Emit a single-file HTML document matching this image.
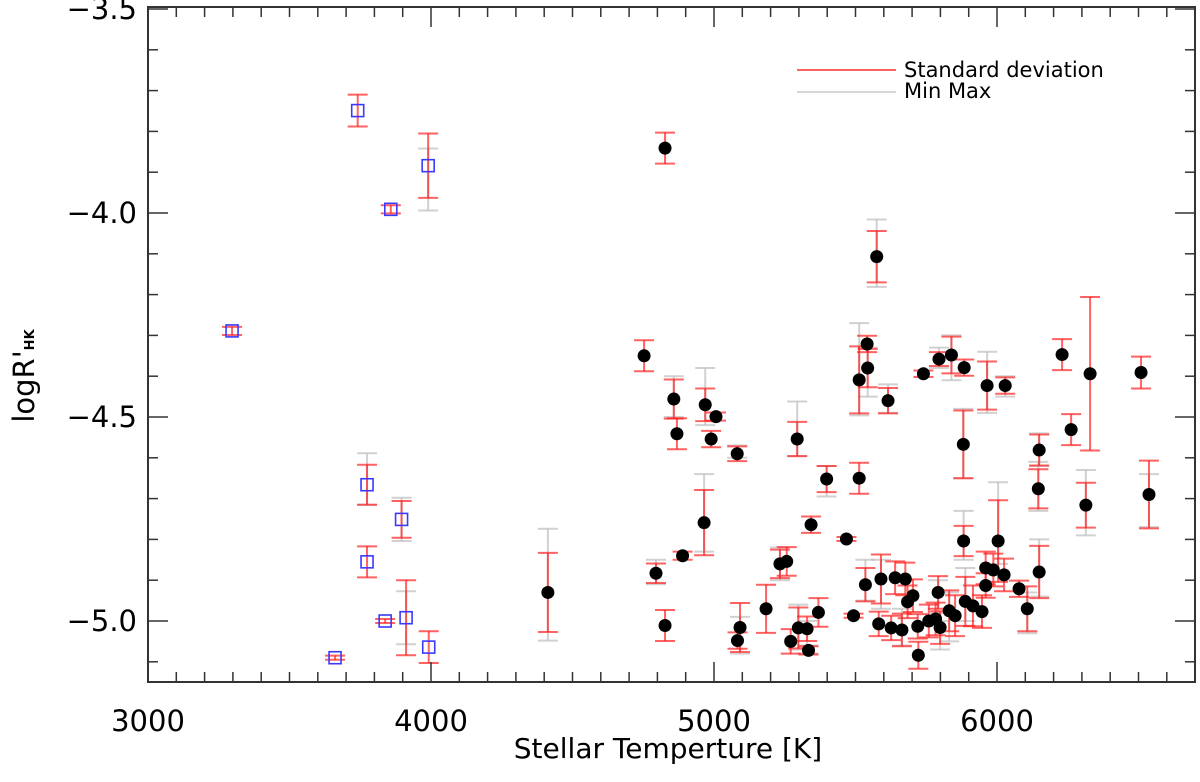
<!DOCTYPE html>
<html><head><meta charset="utf-8"><style>
html,body{margin:0;padding:0;background:#fff;}
svg{display:block;font-family:"DejaVu Sans","Liberation Sans",sans-serif;}
</style></head><body>
<svg id="chart" width="1200" height="782" viewBox="0 0 1200 782" xmlns="http://www.w3.org/2000/svg">
<g id="grayLayer"></g>
<g id="redLayer"></g>
<g id="markLayer"></g>
<g id="axes"></g>
<g>
<line x1="797" y1="70" x2="896" y2="70" stroke="#ff3030" stroke-width="1.5"/>
<text x="904" y="77" font-size="21" fill="#000">Standard deviation</text>
<line x1="797" y1="92" x2="896" y2="92" stroke="#c8c8c8" stroke-width="1.5"/>
<text x="904" y="98" font-size="21" fill="#000">Min Max</text>
</g>
<text x="668" y="758" font-size="28" text-anchor="middle" fill="#000">Stellar Temperture [K]</text>
<text transform="translate(34,376) rotate(-90)" font-size="29" text-anchor="middle" fill="#000">logR'<tspan font-size="13" font-weight="bold">HK</tspan></text>
</svg>
<script>
// M-dwarf (open squares)
const sqTemp=[3741,3990,3858,3297,3774,3896,3774,3838,3912,3992,3661];
const sqVal=[-3.749,-3.884,-3.991,-4.289,-4.666,-4.751,-4.855,-5.0,-4.992,-5.064,-5.09];
const sqSd=[0.039,0.079,0.01,0.01,0.049,0.045,0.038,0.005,0.092,0.039,0.005];
const sqMin=[null,-3.994,null,null,-4.715,-4.804,null,null,-5.057,null,null];
const sqMax=[null,-3.842,null,null,-4.589,-4.698,null,null,-4.927,null,null];
// FGK stars (filled dots)
const dTemp=[4413,4827,5575,4753,4858,4869,4969,5007,4990,5082,5294,5398,5513,5513,5541,5543,5615,5740,5795,5839,5884,5965,6029,5881,6230,6329,6509,6262,6149,6146,6314,6537,5343,5468,5882,6004,6149,5535,5590,5640,5676,5703,5684,5792,5831,5852,5888,5915,5947,5960,5960,5987,6025,6078,6107,5582,5626,5664,5720,5722,5759,5783,5799,5493,5369,5329,5334,4965,4889,5092,5083,5184,5233,5257,5271,5298,4795,4827];
const dVal=[-4.93,-3.841,-4.107,-4.35,-4.456,-4.541,-4.47,-4.499,-4.554,-4.59,-4.554,-4.652,-4.65,-4.409,-4.321,-4.38,-4.46,-4.394,-4.358,-4.348,-4.379,-4.423,-4.423,-4.567,-4.347,-4.394,-4.391,-4.531,-4.581,-4.676,-4.716,-4.69,-4.764,-4.799,-4.804,-4.804,-4.88,-4.911,-4.897,-4.894,-4.897,-4.938,-4.953,-4.93,-4.975,-4.987,-4.952,-4.963,-4.977,-4.913,-4.87,-4.875,-4.887,-4.921,-4.97,-5.007,-5.017,-5.022,-5.013,-5.084,-5.0,-4.995,-5.016,-4.987,-4.979,-5.019,-5.072,-4.759,-4.84,-5.016,-5.048,-4.97,-4.86,-4.854,-5.05,-5.017,-4.883,-5.011];
const dSd=[0.097,0.038,0.063,0.038,0.048,0.038,0.04,0.01,0.02,0.018,0.042,0.032,0.038,0.082,0.02,0.047,0.031,0.008,0.017,0.045,0.02,0.059,0.02,0.083,0.038,0.188,0.039,0.038,0.038,0.048,0.055,0.083,0.02,0.005,0.037,0.1,0.064,0.041,0.06,0.04,0.04,0.04,0.04,0.04,0.05,0.05,0.06,0.05,0.04,0.03,0.04,0.04,0.04,0.02,0.055,0.03,0.03,0.04,0.03,0.033,0.04,0.04,0.04,0.005,0.035,0.03,0.01,0.08,0.01,0.06,0.02,0.059,0.035,0.035,0.03,0.05,0.024,0.038];
const dMin=[-5.048,null,-4.181,null,-4.50,null,-4.52,null,null,-4.60,-4.596,-4.695,null,-4.496,null,-4.45,-4.49,null,-4.38,-4.41,null,-4.49,-4.45,-4.65,null,null,null,null,-4.62,-4.73,-4.79,-4.77,null,null,-4.85,-4.86,-4.94,-4.95,-4.97,null,null,null,null,-5.0,-5.05,null,-5.0,null,null,null,null,null,null,null,-5.03,null,null,-5.06,null,null,null,null,-5.07,null,null,-5.08,-5.08,-4.83,null,-5.08,null,null,-4.90,null,null,-5.07,-4.91,null];
const dMax=[-4.774,null,-4.016,null,-4.40,null,-4.38,null,null,-4.57,-4.462,-4.62,null,-4.27,null,-4.33,-4.42,null,-4.33,-4.30,null,-4.34,-4.40,-4.48,null,null,null,null,-4.54,-4.61,-4.63,-4.64,null,null,-4.73,-4.66,-4.80,-4.85,-4.85,null,null,null,null,-4.9,-4.93,null,-4.87,null,null,null,null,null,null,null,-4.93,null,null,-4.97,null,null,null,null,-4.98,null,null,-5.0,-5.06,-4.64,null,-4.99,null,null,-4.82,null,null,-4.96,-4.85,null];
const xTicks=[3000,4000,5000,6000];
const yTicks=[-3.5,-4.0,-4.5,-5.0];

const X0=148,X1=1195,Y0=7,Y1=682;
const TMIN=3000,TMAX=3000+(X1-X0)/0.283;
const VTOP=-4.0+(213-Y0)/408,VBOT=-4.0-(Y1-213)/408;
function xs(t){return X0+(t-TMIN)/(TMAX-TMIN)*(X1-X0);}
function ys(v){return Y0+(VTOP-v)/(VTOP-VBOT)*(Y1-Y0);}
const NS="http://www.w3.org/2000/svg";
function mk(tag,parent,attrs){const e=document.createElementNS(NS,tag);for(const k in attrs)e.setAttribute(k,attrs[k]);parent.appendChild(e);return e;}
const gL=document.getElementById('grayLayer'),rL=document.getElementById('redLayer'),mL=document.getElementById('markLayer'),aL=document.getElementById('axes');

function errBar(layer,x,lo,hi,color,op,name){
  const g=mk('g',layer,{stroke:color,'stroke-width':2,'stroke-opacity':op});
  
  
  mk('line',g,{x1:x,x2:x,y1:ys(hi),y2:ys(lo)});
  mk('line',g,{x1:x-10,x2:x+10,y1:ys(hi),y2:ys(hi)});
  mk('line',g,{x1:x-10,x2:x+10,y1:ys(lo),y2:ys(lo)});
}
function drawSet(T,V,S,MN,MX,kind){
  for(let i=0;i<T.length;i++){
    const x=xs(T[i]);
    if(MN[i]!==null) errBar(gL,x,MN[i],MX[i],'#bdbdbd',0.7,kind+'-minmax-'+i);
    errBar(rL,x,V[i]-S[i],V[i]+S[i],'#ff2020',0.7,kind+'-std-'+i);
    let m;
    if(kind==='square'){
      m=mk('rect',mL,{x:x-6,y:ys(V[i])-6,width:12,height:12,fill:'none',stroke:'#3a3aff','stroke-width':1.6});
    }else{
      m=mk('circle',mL,{cx:x,cy:ys(V[i]),r:6.5,fill:'#000'});
    }
    
    
  }
}
drawSet(sqTemp,sqVal,sqSd,sqMin,sqMax,'square');
drawSet(dTemp,dVal,dSd,dMin,dMax,'dot');

const fr=mk('rect',aL,{x:X0,y:Y0,width:X1-X0,height:Y1-Y0,fill:'none',stroke:'#333','stroke-width':2});


for(let t=3100;t<TMAX;t+=100){
  const x=xs(t),maj=(t%1000===0),L=maj?20:10;
  mk('line',aL,{x1:x,x2:x,y1:Y1,y2:Y1-L,stroke:'#333','stroke-width':1.5});
  mk('line',aL,{x1:x,x2:x,y1:Y0,y2:Y0+L,stroke:'#333','stroke-width':1.5});
}
for(let k=-35;k>=-51;k--){
  const v=k/10,y=ys(v),maj=(k%5===0),L=maj?20:10;
  mk('line',aL,{x1:X0,x2:X0+L,y1:y,y2:y,stroke:'#333','stroke-width':1.5});
  mk('line',aL,{x1:X1,x2:X1-L,y1:y,y2:y,stroke:'#333','stroke-width':1.5});
}
xTicks.forEach(t=>{
  const tx=mk('text',aL,{x:xs(t),y:731,'font-size':29,'text-anchor':'middle',fill:'#000'});
  tx.textContent=String(t);
  
  
});
yTicks.forEach(v=>{
  const tx=mk('text',aL,{x:137,y:ys(v)+10,'font-size':29,'text-anchor':'end',fill:'#000'});
  tx.textContent='\u2212'+Math.abs(v).toFixed(1);
  
  
});
</script>
</body></html>
